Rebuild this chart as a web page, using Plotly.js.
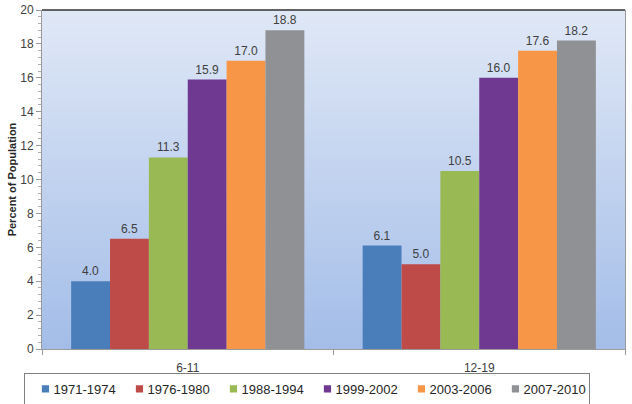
<!DOCTYPE html>
<html>
<head>
<meta charset="utf-8">
<script src="https://cdn.plot.ly/plotly-3.0.1.min.js"></script>
<style>html,body{margin:0;padding:0;background:#fff;}#chart{width:632px;height:404px;}</style>
</head>
<body>
<div id="chart"></div>
<script>
const categories = ["6-11", "12-19"];
const periods = ["1971-1974", "1976-1980", "1988-1994", "1999-2002", "2003-2006", "2007-2010"];
const v1971 = [4.0, 6.1];
const v1976 = [6.5, 5.0];
const v1988 = [11.3, 10.5];
const v1999 = [15.9, 16.0];
const v2003 = [17.0, 17.6];
const v2007 = [18.8, 18.2];
const seriesValues = [v1971, v1976, v1988, v1999, v2003, v2007];
const colors = ["#4a7ebb", "#be4b48", "#98b954", "#6f3991", "#f79646", "#8f9194"];

const FONT = "Arial, 'Liberation Sans', sans-serif";

const traces = periods.map((p, i) => ({
  type: "bar",
  name: p,
  x: categories,
  y: seriesValues[i],
  marker: {color: colors[i], line: {width: 0}},
  texttemplate: "%{y:.1f}",
  textposition: "outside",
  textfont: {family: FONT, size: 12, color: "#404040"},
  cliponaxis: false,
  hoverinfo: "skip"
}));

const bgSvg = '<svg xmlns="http://www.w3.org/2000/svg" width="100" height="100" preserveAspectRatio="none">' +
  '<defs><linearGradient id="g" x1="0" y1="0" x2="0" y2="1">' +
  '<stop offset="0" stop-color="#e0e8f6"/><stop offset="1" stop-color="#a3bde8"/></linearGradient></defs>' +
  '<rect width="100" height="100" fill="url(#g)"/></svg>';

const layout = {
  width: 632, height: 404,
  margin: {l: 42, r: 7, t: 10, b: 55},
  paper_bgcolor: "#ffffff",
  plot_bgcolor: "rgba(0,0,0,0)",
  font: {family: FONT, size: 12, color: "#404040"},
  barmode: "group",
  bargap: 0.2,
  bargroupgap: 0,
  showlegend: true,
  legend: {
    orientation: "h",
    xref: "container", yref: "container",
    x: 0.4865, xanchor: "center",
    y: 0.077, yanchor: "top",
    bordercolor: "#808080", borderwidth: 1,
    bgcolor: "#ffffff",
    font: {family: FONT, size: 13, color: "#262626"},
    itemwidth: 30,
    entrywidth: 49,
    traceorder: "normal"
  },
  xaxis: {
    type: "category",
    showgrid: false,
    showline: true, linecolor: "#9a9a9a", linewidth: 1,
    ticks: "outside", tickson: "boundaries", ticklen: 5, tickcolor: "#9a9a9a",
    ticklabelstandoff: 8,
    tickfont: {family: FONT, size: 12, color: "#404040"},
    zeroline: false,
    fixedrange: true
  },
  yaxis: {
    range: [0, 20],
    dtick: 2,
    showgrid: false,
    zeroline: false,
    showline: true, linecolor: "#9a9a9a", linewidth: 1,
    mirror: true,
    ticks: "outside", ticklen: 5, tickcolor: "#9a9a9a",
    minor: {dtick: 0.4, ticks: "outside", ticklen: 3, tickcolor: "#b0b0b0", showgrid: false},
    tickfont: {family: FONT, size: 12, color: "#404040"},
    title: {text: "<b>Percent of Population</b>", font: {family: FONT, size: 11, color: "#262626"}, standoff: 1},
    fixedrange: true
  },
  images: [{
    source: "data:image/svg+xml;base64," + btoa(bgSvg),
    xref: "paper", yref: "paper",
    x: 0, y: 1, sizex: 1, sizey: 1,
    xanchor: "left", yanchor: "top",
    sizing: "stretch", layer: "below"
  }],
  shapes: [{
    type: "line", xref: "paper", yref: "paper",
    x0: 0, x1: 1, y0: 1, y1: 1,
    line: {color: "#303030", width: 1.5}
  }]
};

Plotly.newPlot("chart", traces, layout, {displayModeBar: false, staticPlot: true}).then(() => {
  document.querySelectorAll("#chart .legend .legendpoints path").forEach(p => {
    const t = p.getAttribute("transform") || "";
    p.setAttribute("transform", t + " scale(0.6)");
  });
  document.querySelectorAll("#chart .legend text.legendtext").forEach(t => {
    const x = parseFloat(t.getAttribute("x") || "0");
    t.setAttribute("x", x - 12);
  });
});
</script>
</body>
</html>
